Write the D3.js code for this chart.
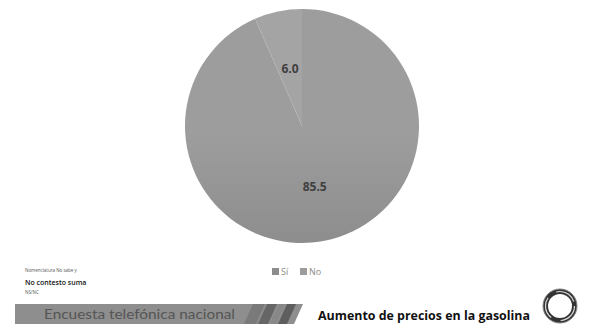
<!DOCTYPE html>
<html><head><meta charset="utf-8">
<script src="https://cdn.jsdelivr.net/npm/d3@7"></script>
<style>body{margin:0;background:#fff;}svg{display:block;font-family:"Open Sans",sans-serif;}</style>
</head><body>
<svg id="c" width="594" height="328"></svg>
<script>
const categories = ["Sí", "No"];
const values = [85.5, 6.0];
const labels = ["85.5", "6.0"];
const title = "Aumento de precios en la gasolina";
const footer = "Encuesta telefónica nacional";
const notes = ["Nomenclatura No sabe y", "No contesto suma", "NS/NC"];

const svg = d3.select("#c");
const defs = svg.append("defs");
const cx = 302, cy = 126, r = 117;

const g1 = defs.append("linearGradient").attr("id","gSi").attr("gradientUnits","userSpaceOnUse")
  .attr("x1",0).attr("y1",cy-r).attr("x2",0).attr("y2",cy+r);
g1.append("stop").attr("offset","0").attr("stop-color","#9d9d9d");
g1.append("stop").attr("offset","1").attr("stop-color","#7b7b7b");
const g2 = defs.append("linearGradient").attr("id","gNo").attr("gradientUnits","userSpaceOnUse")
  .attr("x1",0).attr("y1",cy-r).attr("x2",0).attr("y2",cy+r);
g2.append("stop").attr("offset","0").attr("stop-color","#a4a4a4");
g2.append("stop").attr("offset","1").attr("stop-color","#888888");
const fills = ["url(#gSi)","url(#gNo)"];
const legendFill = ["#8c8c8c","#9c9c9c"];

const pie = d3.pie().sort(null).value(d=>d)(values);
const arc = d3.arc().innerRadius(0).outerRadius(r);
const pg = svg.append("g").attr("transform",`translate(${cx},${cy})`);
pg.selectAll("path").data(pie).join("path")
  .attr("d",arc).attr("fill",(d,i)=>fills[i]);

const labelArcs = [0.53, 0.5];
pg.selectAll("text").data(pie).join("text")
  .attr("transform",(d,i)=>{
    const la = d3.arc().innerRadius(r*labelArcs[i]).outerRadius(r*labelArcs[i]);
    return `translate(${la.centroid(d)})`;})
  .attr("text-anchor","middle").attr("dy","0.35em")
  .attr("font-size",12).attr("font-weight","bold").attr("fill","#404040")
  .text((d,i)=>labels[i]);

// legend
const lg = svg.append("g").attr("transform","translate(272,272)");
const lx = [0, 28];
categories.forEach((c,i)=>{
  lg.append("rect").attr("x",lx[i]).attr("y",-4).attr("width",7).attr("height",7).attr("fill",legendFill[i]);
  lg.append("text").attr("x",lx[i]+9).attr("y",3).attr("font-size",9).attr("fill","#8a8a8a").text(c);
});

// notes
svg.append("text").attr("x",25).attr("y",272).attr("font-size",4.5).attr("fill","#555").text(notes[0]);
svg.append("text").attr("x",25).attr("y",285).attr("font-size",7).attr("font-weight","600").attr("fill","#111").text(notes[1]);
svg.append("text").attr("x",25).attr("y",294).attr("font-size",4.5).attr("fill","#555").text(notes[2]);

// footer band
svg.append("path").attr("d","M15,304 L303,304 L294,324 L15,324 Z").attr("fill","#8e8e8e");
const stripes = [[244,"#7a7a7a",12],[258,"#666",10],[270,"#888",6],[278,"#5e5e5e",9]];
stripes.forEach(s=>{
  svg.append("path").attr("d",`M${s[0]+9},304 L${s[0]+9+s[2]},304 L${s[0]+s[2]},324 L${s[0]},324 Z`).attr("fill",s[1]);
});
svg.append("text").attr("x",44).attr("y",319).attr("font-size",12.5).attr("fill","#555").attr("font-family","Lato, sans-serif")
  .attr("textLength",191).attr("lengthAdjust","spacingAndGlyphs").text(footer);

svg.append("text").attr("x",318).attr("y",320).attr("font-size",12).attr("font-weight","bold").attr("fill","#111")
  .attr("textLength",212).attr("lengthAdjust","spacingAndGlyphs").text(title);

// logo
const lo = svg.append("g").attr("transform","translate(560,306)");
lo.append("circle").attr("r",14.5).attr("fill","none").attr("stroke","#333").attr("stroke-width",5);
lo.append("circle").attr("r",14.5).attr("fill","none").attr("stroke","#ddd").attr("stroke-width",1.2).attr("stroke-dasharray","22 10");
lo.append("circle").attr("r",17).attr("fill","none").attr("stroke","#888").attr("stroke-width",1);
</script>
</body></html>
